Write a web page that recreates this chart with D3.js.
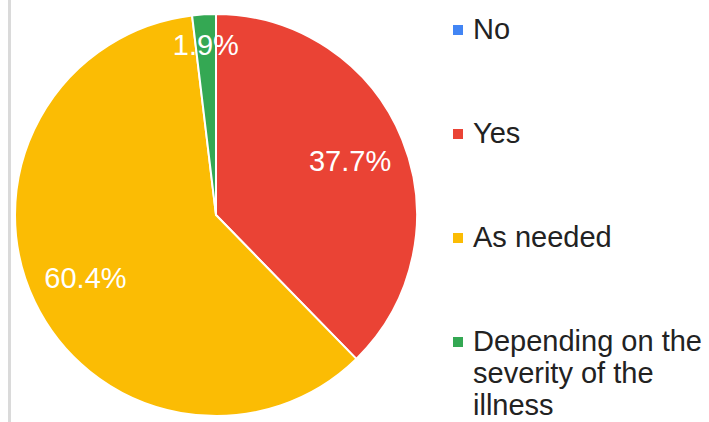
<!DOCTYPE html>
<html>
<head>
<meta charset="utf-8">
<script src="https://cdn.jsdelivr.net/npm/d3@7/dist/d3.min.js"></script>
<style>
  html, body { margin: 0; padding: 0; background: #fff; }
  svg { display: block; font-family: Arial, "Liberation Sans", sans-serif; }
</style>
</head>
<body>
<svg id="chart" width="709" height="422"></svg>
<script>
// Answer categories and their shares (percent)
const categories = ["No", "Yes", "As needed", "Depending on the severity of the illness"];
const legendLines = [["No"], ["Yes"], ["As needed"], ["Depending on the", "severity of the", "illness"]];
const values = [0, 37.7, 60.4, 1.9];
const colors = ["#4285f4", "#ea4335", "#fbbc04", "#34a853"];

const svg = d3.select("#chart");
const W = 709, H = 422;

// thin gray rule on the left edge
svg.append("rect").attr("x", 8).attr("y", 0).attr("width", 3).attr("height", H).attr("fill", "#dadada");

const cx = 216, cy = 215, R = 201;
const data = categories.map((c, i) => ({ name: c, value: values[i], color: colors[i] }));

const pie = d3.pie().value(d => d.value).sort(null);
const arc = d3.arc().innerRadius(0).outerRadius(R);
const arcs = pie(data);

const g = svg.append("g").attr("transform", `translate(${cx},${cy})`);

g.selectAll("path.slice")
  .data(arcs.filter(a => a.data.value > 0))
  .join("path")
  .attr("class", "slice")
  .attr("d", arc)
  .attr("fill", d => d.data.color)
  .attr("stroke", "#fff")
  .attr("stroke-width", 2)
  .attr("stroke-linejoin", "round");

// percentage labels: narrow slices get their label pushed outward
const total = d3.sum(values);
g.selectAll("text.pct")
  .data(arcs.filter(a => a.data.value > 0))
  .join("text")
  .attr("class", "pct")
  .attr("transform", d => {
    const frac = d.data.value / total;
    const lr = frac < 0.05 ? R * 0.85 : R * 0.72;
    const a = (d.startAngle + d.endAngle) / 2;
    return `translate(${lr * Math.sin(a)},${-lr * Math.cos(a)})`;
  })
  .attr("text-anchor", "middle")
  .attr("dy", "0.36em")
  .attr("fill", "#fff")
  .attr("font-size", 29)
  .text(d => d.data.value.toFixed(1) + "%");

// legend
const ly = d3.scalePoint().domain(categories).range([39, 351]);
const leg = svg.append("g");
const items = leg.selectAll("g.item")
  .data(data)
  .join("g")
  .attr("class", "item")
  .attr("transform", d => `translate(0,${ly(d.name)})`);

items.append("rect")
  .attr("x", 453).attr("y", -14)
  .attr("width", 10).attr("height", 10)
  .attr("fill", d => d.color);

items.append("text")
  .attr("x", 473)
  .attr("fill", "#222")
  .attr("font-size", 29)
  .selectAll("tspan")
  .data((d, i) => legendLines[i])
  .join("tspan")
  .attr("x", 473)
  .attr("dy", (t, j) => j === 0 ? 0 : 32)
  .text(t => t);
</script>
</body>
</html>
